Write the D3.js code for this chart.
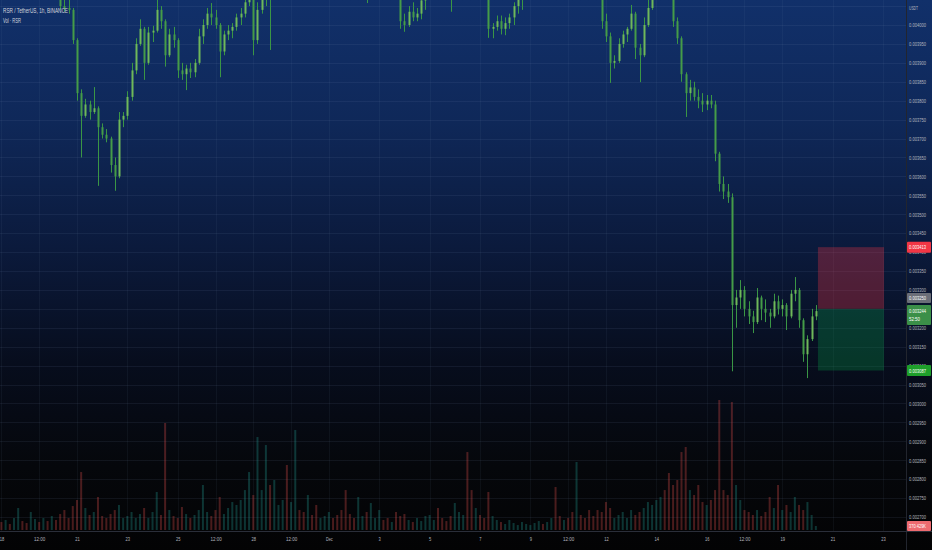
<!DOCTYPE html>
<html><head><meta charset="utf-8">
<script src="https://cdn.jsdelivr.net/npm/d3@7"></script>
<style>html,body{margin:0;padding:0;background:#000;overflow:hidden}svg{display:block}</style>
</head><body>
<svg id="c" width="932" height="550"></svg>
<script>
// ---- DATA (prices in 1e-6 USDT, 4h bars starting 2022-11-18 00:00 UTC) ----
const firstOpen = 4130;
const closes = [4120,4140,4110,4130,4150,4120,4100,4130,4140,4110,4120,4100,4130,4110,
4050,4045,4040,3960,3820,3760,3790,3770,3780,3730,3710,3700,3630,3600,3750,3760,3810,3880,3950,3990,3900,3980,3985,4040,4010,3920,3975,3960,3880,3870,3885,3875,3900,3970,4000,4030,4020,4000,3930,3975,3985,3995,4020,4030,4060,4075,3960,4040,4070,4080,4070,
4110,4130,4150,4140,4160,4180,4150,4130,4140,4120,4110,4130,4150,4170,4160,4140,4120,4110,4100,4090,4110,4120,4095,4110,4130,4140,4120,4100,4110,4095,
4010,4000,4035,4020,4030,4065,4085,
4100,4120,4110,4095,4080,4075,4100,4120,4140,4130,4110,4120,4105,4095,
3990,3995,4010,3990,4005,4020,4050,4070,4085,
4100,4120,4140,4160,4150,4170,4190,4180,4160,4170,4150,4140,4160,4150,4130,4120,4110,4100,
4010,3970,3900,3905,3950,3975,3990,4030,3940,3920,4000,4045,4075,
4090,4110,4100,4095,
4010,3965,3870,3820,3835,3810,3800,3790,3800,3790,3660,3580,3560,3545,3260,3280,3300,3250,3230,3215,3280,3250,3240,3230,3270,3250,3260,3230,3290,3300,3220,3130,3170,3230,3244];
const highs = [4145,4160,4150,4150,4170,4160,4130,4150,4160,4150,4140,4130,4150,4140,
4110,4080,4070,4045,3965,3830,3805,3800,3836,3785,3740,3725,3705,3650,3770,3770,3825,3900,3965,4015,3995,3995,3998,4075,4050,4015,3990,3995,3965,3900,3895,3900,3910,3990,4015,4045,4058,4040,4005,3985,4000,4005,4030,4045,4080,4095,4080,4060,4085,4095,4090,
4125,4145,4165,4160,4175,4195,4185,4155,4150,4145,4130,4145,4165,4185,4180,4165,4145,4130,4120,4110,4120,4135,4125,4120,4140,4155,4145,4125,4120,4115,
4100,4030,4050,4060,4045,4080,4100,
4115,4135,4130,4115,4100,4095,4110,4130,4150,4150,4135,4130,4125,4110,
4100,4005,4025,4025,4020,4030,4060,4085,4100,
4115,4135,4155,4175,4170,4185,4205,4200,4185,4180,4175,4160,4170,4165,4155,4135,4125,4115,
4110,4030,3980,3920,3965,3985,3995,4053,4035,3950,4020,4070,4090,
4105,4125,4120,4110,
4100,4020,3970,3875,3855,3850,3830,3820,3815,3815,3800,3665,3600,3580,3555,3300,3326,3310,3270,3245,3305,3285,3275,3250,3290,3285,3275,3265,3300,3334,3305,3225,3180,3250,3260];
const lows = [4100,4110,4095,4100,4120,4105,4085,4095,4120,4095,4100,4085,4095,4095,
4040,4035,4030,3950,3800,3650,3755,3750,3765,3575,3700,3690,3610,3562,3595,3730,3750,3800,3870,3945,3855,3895,3955,3980,3990,3890,3915,3940,3860,3855,3828,3860,3862,3895,3950,3990,4000,3990,3862,3920,3960,3965,3985,4000,4020,4050,3920,3950,4030,4050,3934,
4068,4100,4120,4125,4130,4150,4140,4120,4125,4110,4100,4105,4125,4145,4150,4130,4110,4100,4090,4080,4085,4100,4058,4090,4105,4120,4110,4090,4095,4085,
3990,3982,3995,4010,4010,4015,4040,
4080,4095,4100,4085,4070,4035,4070,4095,4115,4120,4100,4100,4090,4085,
3966,3965,3985,3975,3973,3990,4000,4030,4040,
4080,4095,4115,4135,4140,4145,4160,4170,4150,4150,4140,4130,4135,4140,4120,4110,4100,4090,
3990,3955,3847,3885,3900,3940,3955,3985,3910,3849,3915,3995,4040,
4070,4085,4090,4080,
3995,3950,3850,3757,3800,3800,3780,3770,3775,3780,3640,3560,3540,3530,3085,3200,3250,3230,3210,3186,3210,3220,3215,3200,3225,3235,3230,3194,3225,3270,3200,3110,3067,3165,3220];
// volume, millions of RSR per bar
const volumes = [0.74,0.93,0.56,1.11,2.04,0.83,0.65,1.67,1.02,0.74,1.11,0.83,1.30,0.93,1.48,1.85,1.11,2.22,2.78,5.37,
2.04,1.39,1.67,3.06,1.30,1.11,1.48,1.85,2.32,1.11,1.30,1.67,1.11,1.48,2.04,1.11,1.67,3.52,1.39,9.91,
1.85,1.30,1.11,2.13,1.48,1.11,1.39,1.85,4.17,1.67,1.30,1.85,3.06,1.48,2.04,2.59,2.32,2.78,3.70,5.37,
3.24,8.61,3.70,7.87,4.17,4.63,2.32,2.78,6.02,2.59,9.26,1.85,1.67,3.24,1.39,2.32,1.11,1.30,1.67,1.11,
1.39,1.85,3.70,1.48,1.11,3.06,1.30,1.67,2.50,1.11,1.85,0.93,1.11,0.74,1.67,1.30,1.48,0.93,0.74,1.11,
0.83,1.30,1.39,0.93,2.04,1.11,0.83,1.30,2.50,1.67,1.39,7.22,3.70,2.04,1.39,1.11,3.52,1.30,0.93,0.74,
0.56,0.93,0.65,0.46,0.74,0.56,0.46,0.65,0.83,0.56,0.74,1.11,3.98,1.30,0.93,1.11,1.67,6.30,1.39,1.11,
1.85,1.30,1.85,1.67,2.59,2.04,1.11,1.39,1.67,1.11,1.85,1.39,1.67,2.04,2.59,2.32,2.78,3.06,3.70,5.28,
4.17,4.63,7.22,7.69,3.70,3.24,4.17,2.59,2.32,2.78,3.70,12.04,3.70,3.24,11.85,4.17,2.78,1.85,1.67,1.39,
1.85,1.30,1.67,3.06,2.04,4.17,1.85,2.32,1.67,3.06,2.32,1.85,2.59,1.39,0.370429];
const priceTicks = [0.0027,0.00275,0.0028,0.00285,0.0029,0.00295,0.003,0.00305,0.0031,0.00315,0.0032,0.00325,0.0033,0.00335,0.0034,0.00345,0.0035,0.00355,0.0036,0.00365,0.0037,0.00375,0.0038,0.00385,0.0039,0.00395,0.004,0.00405];
const timeTicks = ["2022-11-18T00:00Z","2022-11-19T12:00Z","2022-11-21T00:00Z","2022-11-23T00:00Z","2022-11-25T00:00Z","2022-11-26T12:00Z","2022-11-28T00:00Z","2022-11-29T12:00Z","2022-12-01T00:00Z","2022-12-03T00:00Z","2022-12-05T00:00Z","2022-12-07T00:00Z","2022-12-09T00:00Z","2022-12-10T12:00Z","2022-12-12T00:00Z","2022-12-14T00:00Z","2022-12-16T00:00Z","2022-12-17T12:00Z","2022-12-19T00:00Z","2022-12-21T00:00Z","2022-12-23T00:00Z"];
const timeLabels = ["18","12:00","21","23","25","12:00","28","12:00","Dec","3","5","7","9","12:00","12","14","16","12:00","19","21","23"];
const position = {entry:0.003250, stop:0.003413, target:0.003087, from:"2022-12-20T10:00Z", to:"2022-12-23T01:00Z"};
const lastPrice = 0.003244, countdown = "52:50", lastVolumeLabel = "370.429K";
const title = "RSR / TetherUS, 1h, BINANCE", volTitle = "Vol · RSR", currency = "USDT";

// ---- BUILD ----
const W=932,H=550,PR=906,PB=531;
const start = Date.UTC(2022,10,18);
const bars = closes.map((c,i)=>({t:new Date(start+i*4*3600e3),
  o:(i?closes[i-1]:firstOpen)/1e6,h:highs[i]/1e6,l:lows[i]/1e6,c:c/1e6,v:volumes[i]}));

const x = d3.scaleUtc().domain([new Date("2022-11-18T00:00Z"),new Date("2022-12-23T00:00Z")]).range([1.4,883]);
const y = d3.scaleLinear().domain([0.0027,0.0040]).range([517,25]);
const yv = d3.scaleLinear().domain([0,12.04]).range([530,400]);

const svg = d3.select("#c");
const defs = svg.append("defs");
const gr = defs.append("linearGradient").attr("id","bg").attr("x1",0).attr("y1",0).attr("x2",0).attr("y2",1);
[[0,"#11306a"],[0.22,"#0f2859"],[0.45,"#0b1a3c"],[0.66,"#070d1d"],[0.85,"#05070b"],[1,"#030304"]]
  .forEach(s=>gr.append("stop").attr("offset",s[0]).attr("stop-color",s[1]));
defs.append("clipPath").attr("id","pane").append("rect").attr("width",PR).attr("height",PB);
svg.append("rect").attr("width",W).attr("height",H).attr("fill","url(#bg)");

const pane = svg.append("g").attr("clip-path","url(#pane)");
// grid
pane.append("g").selectAll("line").data(priceTicks).join("line")
  .attr("x1",0).attr("x2",PR).attr("y1",d=>Math.round(y(d))+0.5).attr("y2",d=>Math.round(y(d))+0.5)
  .attr("stroke","rgba(130,150,190,0.10)");
const tDates = timeTicks.map(s=>new Date(s));
pane.append("g").selectAll("line").data(tDates).join("line")
  .attr("y1",0).attr("y2",PB).attr("x1",d=>Math.round(x(d))+0.5).attr("x2",d=>Math.round(x(d))+0.5)
  .attr("stroke","rgba(130,150,190,0.07)");

// volume
pane.append("g").selectAll("rect").data(bars).join("rect")
  .attr("x",d=>x(d.t)-1).attr("width",2)
  .attr("y",d=>yv(d.v)).attr("height",d=>yv(0)-yv(d.v))
  .attr("fill",d=>d.c>=d.o?"rgba(38,166,154,0.30)":"rgba(239,83,80,0.30)");

// candles
const cg = pane.append("g");
cg.selectAll("line").data(bars).join("line")
  .attr("x1",d=>Math.round(x(d.t))+0.5).attr("x2",d=>Math.round(x(d.t))+0.5)
  .attr("y1",d=>y(d.h)).attr("y2",d=>y(d.l))
  .attr("stroke","#3a9645").attr("stroke-width",1);
cg.selectAll("rect").data(bars).join("rect")
  .attr("x",d=>Math.round(x(d.t))-0.5).attr("width",2)
  .attr("y",d=>y(Math.max(d.o,d.c))).attr("height",d=>Math.max(1,Math.abs(y(d.o)-y(d.c))))
  .attr("fill",d=>d.c>=d.o?"#6fb85a":"#459c48");

// position tool
const px0 = x(new Date(position.from)), px1 = x(new Date(position.to));
pane.append("rect").attr("x",px0).attr("width",px1-px0)
  .attr("y",y(position.stop)).attr("height",y(position.entry)-y(position.stop))
  .attr("fill","rgba(242,54,69,0.30)");
pane.append("rect").attr("x",px0).attr("width",px1-px0)
  .attr("y",y(position.entry)).attr("height",y(position.target)-y(position.entry))
  .attr("fill","rgba(8,153,69,0.30)");

// borders
svg.append("line").attr("x1",PR+0.5).attr("x2",PR+0.5).attr("y1",0).attr("y2",H).attr("stroke","#22252e");
svg.append("line").attr("x1",0).attr("x2",W).attr("y1",PB+0.5).attr("y2",PB+0.5).attr("stroke","#2a2e39");

const FONT = "'Liberation Sans', Arial, sans-serif";
// price axis
const ya = svg.append("g").attr("transform",`translate(${PR},0)`)
  .call(d3.axisRight(y).tickValues(priceTicks.slice(0,-1)).tickSize(0).tickPadding(3).tickFormat(d3.format(".6f")));
ya.select(".domain").remove();
ya.selectAll("text").attr("font-family",FONT).attr("font-size",5.6).attr("fill","#b2b5be")
  .attr("textLength",17).attr("lengthAdjust","spacingAndGlyphs");
svg.append("text").attr("x",909).attr("y",10).text(currency).attr("font-family",FONT).attr("font-size",5.6)
  .attr("fill","#b2b5be").attr("textLength",9).attr("lengthAdjust","spacingAndGlyphs");

// time axis
const xa = svg.append("g").attr("transform",`translate(0,${PB})`)
  .call(d3.axisBottom(x).tickValues(tDates).tickSize(0).tickPadding(6).tickFormat((d,i)=>timeLabels[i]));
xa.select(".domain").remove();
xa.selectAll("text").attr("font-family",FONT).attr("font-size",5.6).attr("fill","#b2b5be")
  .each(function(d,i){const l=timeLabels[i].length; d3.select(this).attr("textLength",l*2.25).attr("lengthAdjust","spacingAndGlyphs");});

// price badges
function badge(fill,txt,yc,h,sub){
  const g=svg.append("g");
  g.append("rect").attr("x",907).attr("y",yc-h/2).attr("width",24).attr("height",h).attr("rx",1).attr("fill",fill);
  g.append("text").attr("x",909).attr("y",sub?yc-2.5:yc+2).text(txt).attr("font-family",FONT).attr("font-size",5.6)
    .attr("fill","#ffffff").attr("textLength",17).attr("lengthAdjust","spacingAndGlyphs");
  if(sub) g.append("text").attr("x",909).attr("y",yc+5.5).text(sub).attr("font-family",FONT).attr("font-size",5.6)
    .attr("fill","#ffffff").attr("textLength",11).attr("lengthAdjust","spacingAndGlyphs");
}
const f6 = d3.format(".6f");
badge("#f23645",f6(position.stop),y(position.stop),11);
badge("#6b6e78",f6(position.entry),298,10);
badge("#3b8f48",f6(lastPrice),315,20,countdown);
badge("#1e9f2a",f6(position.target),y(position.target),11);
badge("#ee6b70",lastVolumeLabel,526,10);

// legend
svg.append("text").attr("x",3).attr("y",13).text(title).attr("font-family",FONT).attr("font-size",6.5)
  .attr("fill","#d1d4dc").attr("textLength",65).attr("lengthAdjust","spacingAndGlyphs");
svg.append("text").attr("x",3).attr("y",23).text(volTitle).attr("font-family",FONT).attr("font-size",6.5)
  .attr("fill","#d1d4dc").attr("textLength",18).attr("lengthAdjust","spacingAndGlyphs");
</script>
</body></html>
